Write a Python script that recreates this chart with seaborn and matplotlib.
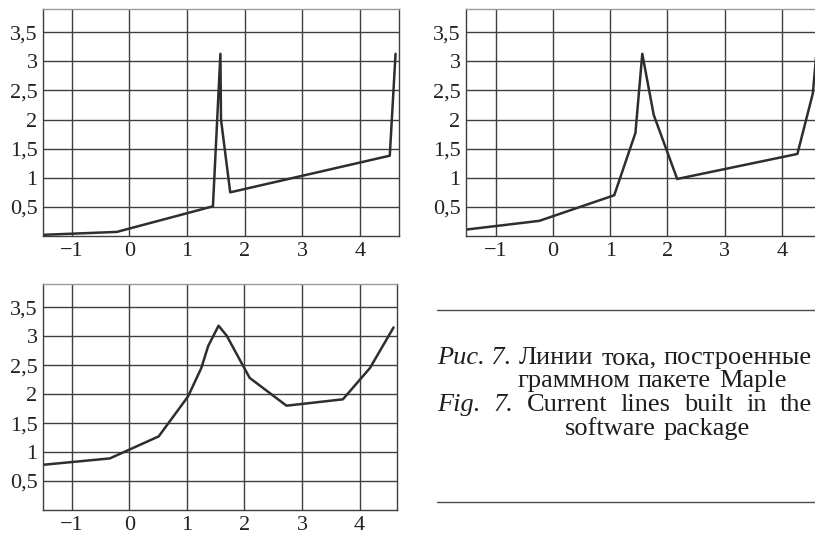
import matplotlib
matplotlib.use("Agg")
import matplotlib.pyplot as plt
from matplotlib.lines import Line2D
import seaborn as sns
import pandas as pd

# ---- data ----
x_ticks = [-1, 0, 1, 2, 3, 4]
x_tick_labels = ["\u22121", "0", "1", "2", "3", "4"]
y_ticks = [0.5, 1, 1.5, 2, 2.5, 3, 3.5]
y_tick_labels = ["0,5", "1", "1,5", "2", "2,5", "3", "3,5"]

line1_x = [-1.5, -0.22, 1.45, 1.58, 1.59, 1.75, 4.52, 4.62]
line1_y = [0.02, 0.07, 0.51, 3.13, 2.0, 0.75, 1.38, 3.13]

line2_x = [-1.52, -0.24, 1.07, 1.44, 1.56, 1.76, 2.17, 4.27, 4.54, 4.60]
line2_y = [0.11, 0.26, 0.70, 1.77, 3.13, 2.08, 0.98, 1.41, 2.45, 3.12]

line3_x = [-1.5, -0.34, 0.51, 1.02, 1.25, 1.37, 1.55, 1.69, 2.09, 2.73, 3.71, 4.18, 4.59]
line3_y = [0.78, 0.89, 1.27, 1.96, 2.45, 2.83, 3.18, 3.01, 2.28, 1.80, 1.91, 2.45, 3.15]

caption_lines = [
    [("Рис. 7.", "italic"), ("Линии", "normal"), ("тока,", "normal"),
     ("построенные", "normal")],
    [("граммном", "normal"), ("пакете", "normal"), ("Maple", "normal")],
    [("Fig.", "italic"), ("7.", "italic"), ("Current", "normal"), ("lines", "normal"),
     ("built", "normal"), ("in", "normal"), ("the", "normal")],
    [("software", "normal"), ("package", "normal")],
]

# ---- style ----
sns.set_theme(style="white")
plt.rcParams["font.family"] = ["Liberation Serif", "DejaVu Serif"]

W, H = 815, 535
fig = plt.figure(figsize=(W / 100, H / 100), dpi=100)

GRID_C = "#3a403e"
LINE_C = "#2b302f"


def px_axes(left, top, right, bottom):
    return fig.add_axes([left / W, 1 - bottom / H, (right - left) / W, (bottom - top) / H])


def style_axes(ax, xlim):
    ax.set_xlim(*xlim)
    ax.set_ylim(0, 3.9)
    ax.set_xticks(x_ticks)
    ax.set_xticklabels(x_tick_labels)
    ax.set_yticks(y_ticks)
    ax.set_yticklabels(y_tick_labels)
    ax.tick_params(length=0, labelsize=16, colors="#222222", pad=4)
    ax.grid(True, color=GRID_C, linewidth=1.0)
    ax.set_axisbelow(True)
    for s in ["left", "bottom", "right"]:
        ax.spines[s].set_color(GRID_C)
        ax.spines[s].set_linewidth(1.0)
    ax.spines["top"].set_color("#9a9a9a")
    ax.spines["top"].set_linewidth(1.0)
    ax.set_xlabel("")
    ax.set_ylabel("")


panels = [
    (px_axes(43, 9, 399, 236), line1_x, line1_y, (-1.5, 4.68)),
    (px_axes(466, 9, 822, 236), line2_x, line2_y, (-1.52, 4.7)),
    (px_axes(43, 284, 397, 510), line3_x, line3_y, (-1.5, 4.65)),
]

for ax, xs, ys, xlim in panels:
    df = pd.DataFrame({"x": xs, "y": ys})
    sns.lineplot(data=df, x="x", y="y", ax=ax, sort=False, estimator=None,
                 color=LINE_C, linewidth=1.8)
    style_axes(ax, xlim)

# ---- caption ----
for ypix in (310, 502):
    fig.add_artist(Line2D([437 / W, 1.0], [1 - ypix / H, 1 - ypix / H],
                          color="#4a4a4a", linewidth=1.0))

renderer = fig.canvas.get_renderer()
FS = 19
# (start px, end px or None for natural spacing, baseline px, natural gap px)
layout = [
    (437, 812, 364, 6),
    (517, None, 387, 8),
    (437, 812, 411, 6),
    (565, None, 435, 8),
]
for pieces, (x0, x1, ybase, gap) in zip(caption_lines, layout):
    texts = []
    widths = []
    for txt, st in pieces:
        t = fig.text(0, 1 - ybase / H, txt, fontsize=FS, style=st,
                     ha="left", va="baseline", color="#1e1e1e")
        texts.append(t)
        widths.append(t.get_window_extent(renderer).width)
    if x1 is not None and len(texts) > 1:
        gap = max(3, (x1 - x0 - sum(widths)) / (len(texts) - 1))
    xp = x0
    for t, w in zip(texts, widths):
        t.set_x(xp / W)
        xp += w + gap

fig.savefig("out.png", dpi=100)
